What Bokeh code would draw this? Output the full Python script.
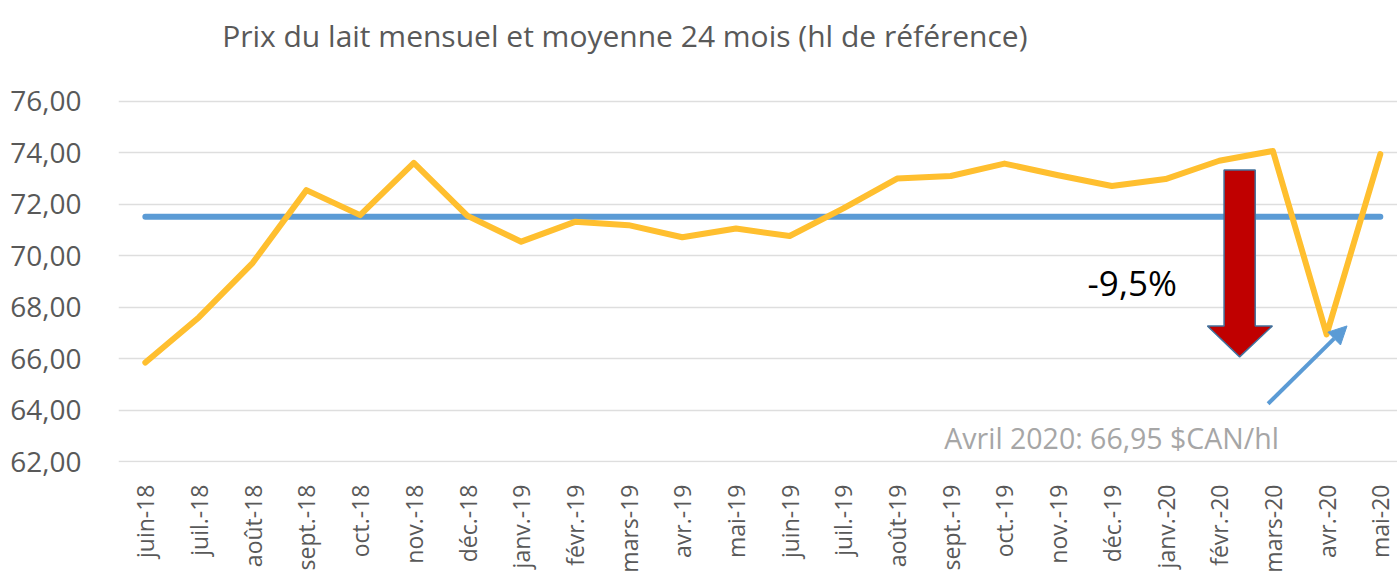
from bokeh.plotting import figure
from bokeh.models import FixedTicker, Label, Arrow, NormalHead
from bokeh.embed import file_html
from bokeh.resources import INLINE

# ---- data ----
months = ["juin-18", "juil.-18", "août-18", "sept.-18", "oct.-18", "nov.-18",
          "déc.-18", "janv.-19", "févr.-19", "mars-19", "avr.-19", "mai-19",
          "juin-19", "juil.-19", "août-19", "sept.-19", "oct.-19", "nov.-19",
          "déc.-19", "janv.-20", "févr.-20", "mars-20", "avr.-20", "mai-20"]
prix = [65.86, 67.62, 69.73, 72.55, 71.58, 73.61, 71.55, 70.55, 71.32, 71.19,
        70.72, 71.06, 70.77, 71.84, 73.00, 73.10, 73.58, 73.13, 72.71, 72.98,
        73.69, 74.07, 66.95, 73.95]
moyenne = [71.52] * 24
y_ticks = [62, 64, 66, 68, 70, 72, 74, 76]
y_labels = ["62,00", "64,00", "66,00", "68,00", "70,00", "72,00", "74,00", "76,00"]

title_text = "Prix du lait mensuel et moyenne 24 mois (hl de référence)"
drop_text = "-9,5%"
note_text = "Avril 2020: 66,95 $CAN/hl"

FONT = "Open Sans"
x = list(range(len(months)))

p = figure(width=1397, height=575, output_backend="svg", toolbar_location=None,
           x_range=(-0.5, 23.32), y_range=(61.98, 79.91),
           min_border_left=118, min_border_right=0, min_border_top=0,
           min_border_bottom=0)
p.outline_line_color = None
p.background_fill_color = "white"
p.border_fill_color = "white"

# axes
p.xaxis.ticker = FixedTicker(ticks=x)
p.xaxis.major_label_overrides = {i: m for i, m in enumerate(months)}
p.xaxis.major_label_orientation = 1.5707963
p.xaxis.major_label_text_font = FONT
p.xaxis.major_label_text_font_size = "23px"
p.xaxis.major_label_text_color = "#595959"
p.xaxis.major_label_standoff = 16
p.xaxis.axis_line_color = None
p.xaxis.major_tick_line_color = None
p.xaxis.minor_tick_line_color = None

p.yaxis.ticker = FixedTicker(ticks=y_ticks)
p.yaxis.major_label_overrides = {t: l for t, l in zip(y_ticks, y_labels)}
p.yaxis.major_label_text_font = FONT
p.yaxis.major_label_text_font_size = "28px"
p.yaxis.major_label_text_color = "#595959"
p.yaxis.major_label_standoff = 31
p.yaxis.axis_line_color = None
p.yaxis.major_tick_line_color = None
p.yaxis.minor_tick_line_color = None

p.xgrid.grid_line_color = None
p.ygrid.grid_line_color = "#DEDEDE"
p.ygrid.grid_line_width = 1.3

# series
p.line(x, moyenne, line_color="#5B9BD5", line_width=6, line_cap="round")
p.line(x, prix, line_color="#FFBF2F", line_width=6, line_cap="round",
       line_join="round")

# red block arrow (annotation)
ax = [20.09, 20.67, 20.67, 20.99, 20.38, 19.78, 20.09]
ay = [73.33, 73.33, 67.28, 67.28, 66.08, 67.28, 67.28]
p.patch(ax, ay, fill_color="#C00000", line_color="#41719C", line_width=1.5)

# blue pointer arrow
p.add_layout(Arrow(end=NormalHead(size=18, fill_color="#5B9BD5",
                                  line_color="#5B9BD5"),
                   x_start=20.91, y_start=64.26, x_end=22.38, y_end=67.28,
                   line_color="#5B9BD5", line_width=4))

# texts
p.add_layout(Label(x=1.43, y=78.56, text=title_text, text_font=FONT,
                   text_font_size="30px", text_color="#595959",
                   text_baseline="alphabetic", text_align="left"))
p.add_layout(Label(x=18.38, y=68.98, text=drop_text, text_font=FONT,
                   text_font_size="35px", text_color="#000000",
                   text_baseline="middle", text_align="center"))
p.add_layout(Label(x=14.88, y=62.94, text=note_text, text_font=FONT,
                   text_font_size="28.5px", text_color="#A6A6A6",
                   text_baseline="alphabetic", text_align="left"))

open("out.html", "w").write(file_html(p, INLINE))
